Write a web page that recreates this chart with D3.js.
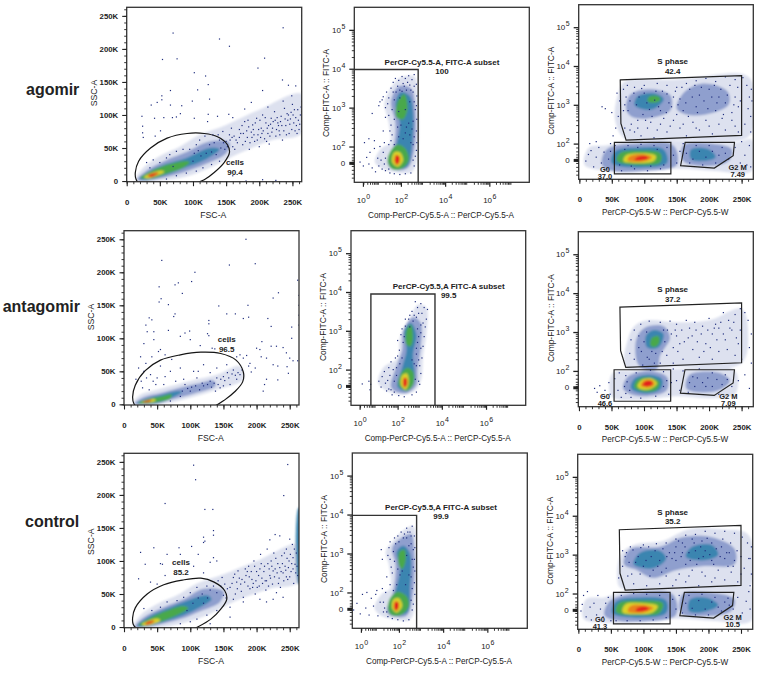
<!DOCTYPE html>
<html>
<head>
<meta charset="utf-8">
<script src="https://cdn.jsdelivr.net/npm/d3@7/dist/d3.min.js"></script>
<style>
  html, body { margin: 0; padding: 0; background: #fff; }
  svg { display: block; }
  text { font-family: "Liberation Sans", Arial, sans-serif; fill: #222; }
</style>
</head>
<body>
<svg id="chart" width="760" height="673"></svg>
<script>
// tick labels
var linearTicks = [0, 50, 100, 150, 200, 250];
var fitcTicks = [[1.58, "0"], [2, "2"], [3, "3"], [4, "4"], [5, "5"]];
var percpTicks = [[0.28, "0"], [2, "2"], [4, "4"], [6, "6"]];

// density colours, sparse to dense
var levelColors = ["#dde1ef", "#8f9fce", "#3a85b0", "#4aa84c", "#dcd22a", "#e8831f", "#e3201b"];

// gates shared by the cell cycle plots (W in K, FITC in decades)
var sPhaseGate = [[63, 3.64], [250, 3.75], [250, 2.21], [72, 2.09], [64, 2.52]];
var g0Gate = [[54, 2.03], [141, 2.03], [141, 1.22], [54, 1.22]];
var g2mGate = [[163, 2.03], [239, 2.03], [237, 1.69], [208, 1.37], [156, 1.43]];

// cell gates, FSC / SSC in K
var agomirCellsGate = [[13,13],[18,30],[36,50],[61,65],[91,72],[117,72],[137,67],[152,55],[155,43],[147,28],[132,13],[117,2],[102,-4],[76,-13],[46,-13],[23,-8],[14,3]];
var antagomirCellsGate = [[13,11],[17,29],[32,51],[55,67],[85,75],[116,79],[146,77],[169,67],[180,49],[179,34],[167,19],[151,6],[136,-3],[106,-12],[55,-12],[24,-7],[15,1]];
var controlCellsGate = [[13,14],[17,29],[35,50],[60,64],[88,71],[116,74],[136,68],[152,55],[155,42],[146,27],[131,12],[111,0],[98,-6],[50,-9],[22,-4],[14,4]];

// subset gates, PerCP / FITC in decades
var agomirSubsetGate = [[-0.2, 3.98], [2.78, 3.98], [2.78, 1]];
var antagomirSubsetGate = [[0.79, 1], [0.79, 3.95], [3.69, 3.95], [3.69, 1]];
var controlSubsetGate = [[-0.2, 3.98], [2.8, 3.98], [2.8, 1]];

// density bands: [level, outline]
var agomirFscBands = [
  [0, [[14,2],[25,20],[50,38],[80,52],[110,70],[150,85],[200,108],[264,132],[264,72],[220,62],[170,42],[130,22],[90,7],[50,1]]],
  [1, [[16,2],[30,16],[60,32],[90,44],[125,60],[155,58],[150,42],[120,26],[85,13],[50,4],[25,0]]],
  [2, [[19,4],[35,15],[60,26],[90,35],[125,50],[140,48],[120,33],[85,19],[55,8],[30,2]]],
  [3, [[21,5],[38,16],[62,25],[85,30],[95,29],[85,20],[60,11],[35,3]]],
  [4, [[26,6],[40,13],[52,16],[57,14],[45,8],[32,4]]],
  [6, [[32,8],[42,12],[48,12],[42,8],[35,6]]]
];
var antagomirFscBands = [
  [0, [[14,1],[24,14],[50,22],[80,30],[110,38],[140,45],[175,58],[180,38],[140,22],[100,10],[60,1]]],
  [1, [[16,1],[30,11],[55,17],[80,24],[110,31],[135,36],[138,28],[105,16],[75,8],[50,1]]],
  [2, [[19,2],[35,9],[58,15],[78,20],[88,19],[70,9],[50,2]]],
  [3, [[21,2],[35,8],[55,12],[72,15],[70,9],[52,4],[35,1]]],
  [4, [[25,3],[35,6],[45,8],[48,6],[38,3]]],
  [6, [[29,4],[36,6],[42,7],[40,5],[32,3]]]
];
var controlFscBands = [
  [0, [[14,0],[25,18],[50,35],[80,48],[110,66],[150,80],[200,100],[264,125],[264,68],[220,58],[170,40],[130,20],[90,6],[50,-1]]],
  [1, [[16,0],[30,15],[60,30],[90,42],[120,58],[150,54],[145,38],[115,24],[85,12],[50,3],[25,-1]]],
  [2, [[20,2],[40,17],[65,28],[90,38],[125,48],[132,42],[115,30],[90,18],[60,8],[35,1]]],
  [3, [[22,3],[40,14],[65,25],[88,32],[97,29],[80,18],[55,8],[35,2]]],
  [2, [[263,65],[266,65],[266,180],[263,180]]],
  [4, [[27,4],[38,10],[50,13],[55,10],[45,5],[32,2]]],
  [6, [[32,5],[40,9],[46,9],[42,6],[34,4]]]
];

var agomirSubsetBands = [
  [0, [[0.82,1.6],[1.1,1.95],[1.5,2.1],[1.45,2.6],[1.25,3.1],[1.4,3.35],[1.9,3.75],[2.6,3.8],[2.75,3.3],[2.75,1.8],[2.5,1.35],[1.8,1.33],[1.1,1.45]]],
  [1, [[1.4,1.55],[1.7,2.1],[1.75,2.6],[1.55,3.15],[1.9,3.55],[2.45,3.5],[2.65,3],[2.6,1.9],[2.3,1.45],[1.7,1.4]]],
  [2, [[1.55,1.5],[1.8,2.05],[1.95,2.6],[1.75,3.1],[2.0,3.4],[2.4,3.3],[2.55,2.9],[2.5,2.0],[2.3,1.5],[1.8,1.42]]],
  [3, [[1.4,1.6],[1.5,1.85],[1.85,2.05],[2.2,1.95],[2.35,1.65],[2.0,1.42],[1.6,1.42]]],
  [3, [[1.8,2.75],[1.85,3.15],[2.15,3.35],[2.3,3.0],[2.1,2.7]]],
  [4, [[1.6,1.6],[1.7,1.85],[1.95,1.85],[2.1,1.65],[1.85,1.48]]],
  [6, [[1.72,1.62],[1.78,1.78],[1.92,1.75],[1.93,1.6],[1.82,1.53]]]
];
var antagomirSubsetBands = [
  [0, [[1.13,1.65],[1.35,2.05],[2.0,2.3],[2.1,2.82],[2.56,3.34],[2.93,3.68],[3.3,3.6],[3.3,2.91],[3.16,2.39],[3.05,1.71],[2.7,1.42],[1.85,1.38]]],
  [1, [[1.7,1.55],[1.95,2.1],[2.2,2.5],[2.25,3.0],[2.7,3.35],[3.05,3.2],[3.05,2.6],[2.9,2.0],[2.85,1.6],[2.45,1.4],[1.95,1.42]]],
  [2, [[2.0,1.55],[2.2,2.05],[2.4,2.5],[2.3,3.0],[2.6,3.2],[2.85,2.9],[2.7,2.4],[2.75,1.7],[2.4,1.45]]],
  [3, [[2.05,1.6],[2.15,1.9],[2.45,2.05],[2.7,1.95],[2.7,1.6],[2.4,1.45]]],
  [3, [[2.4,2.65],[2.42,3.05],[2.6,3.15],[2.7,2.85],[2.6,2.6]]],
  [4, [[2.15,1.6],[2.2,1.85],[2.42,1.9],[2.5,1.65],[2.35,1.48]]],
  [6, [[2.25,1.6],[2.28,1.78],[2.4,1.78],[2.42,1.6],[2.32,1.54]]]
];
var controlSubsetBands = [
  [0, [[0.9,1.6],[1.2,1.95],[1.6,2.1],[1.55,2.7],[1.4,3.05],[1.7,3.3],[2.2,3.6],[2.65,3.7],[2.78,3.1],[2.75,1.8],[2.5,1.3],[1.85,1.3],[1.2,1.4]]],
  [1, [[1.45,1.5],[1.75,2.05],[1.85,2.7],[1.7,3.15],[2.1,3.4],[2.55,3.5],[2.7,3],[2.62,1.9],[2.35,1.4],[1.75,1.38]]],
  [2, [[1.55,1.5],[1.85,2.05],[2.05,2.6],[1.9,3.05],[2.2,3.2],[2.5,3.0],[2.5,2.1],[2.4,1.5],[1.85,1.42]]],
  [3, [[1.5,1.58],[1.6,1.85],[1.95,2.02],[2.35,1.9],[2.45,1.65],[2.1,1.42],[1.65,1.42]]],
  [3, [[2.0,2.7],[2.02,3.05],[2.25,3.1],[2.3,2.8],[2.15,2.6]]],
  [4, [[1.7,1.58],[1.75,1.82],[2.0,1.85],[2.15,1.65],[1.9,1.48]]],
  [6, [[1.78,1.6],[1.83,1.76],[1.97,1.75],[1.98,1.6],[1.88,1.53]]]
];

var agomirCycleBands = [
  [0, [[8,1.45],[15,1.9],[40,1.95],[70,2.05],[150,2.08],[240,2.02],[266,2.1],[266,1.3],[205,1.3],[150,1.35],[80,1.25],[40,1.3]]],
  [0, [[55,2.6],[60,3.3],[70,3.6],[150,3.65],[250,3.8],[266,3.6],[262,2.2],[150,2.1],[72,2.1]]],
  [1, [[35,1.45],[42,1.85],[90,2.0],[145,1.95],[150,1.45],[100,1.3],[50,1.3]]],
  [1, [[72,2.9],[78,3.25],[105,3.4],[140,3.25],[140,2.85],[105,2.65],[80,2.7]]],
  [1, [[150,2.9],[160,3.3],[190,3.55],[228,3.35],[230,3],[195,2.75],[165,2.75]]],
  [1, [[160,1.55],[160,1.95],[200,2.0],[235,1.85],[230,1.55],[195,1.42]]],
  [2, [[50,1.5],[55,1.8],[95,1.9],[130,1.85],[135,1.5],[95,1.38]]],
  [2, [[85,3.0],[90,3.22],[115,3.3],[130,3.15],[115,2.9],[95,2.9]]],
  [2, [[172,1.6],[172,1.85],[200,1.85],[210,1.65],[190,1.55]]],
  [3, [[58,1.55],[62,1.75],[95,1.82],[125,1.75],[125,1.52],[95,1.44]]],
  [3, [[105,3.1],[108,3.22],[122,3.22],[125,3.12],[113,3.05]]],
  [4, [[68,1.55],[72,1.7],[100,1.75],[118,1.68],[115,1.55],[90,1.5]]],
  [5, [[74,1.57],[78,1.68],[100,1.72],[112,1.65],[105,1.57],[88,1.53]]],
  [6, [[85,1.58],[90,1.66],[103,1.68],[106,1.62],[96,1.57]]]
];
var antagomirCycleBands = [
  [0, [[50,1.35],[52,1.95],[90,2.0],[150,2.05],[240,2.0],[240,1.4],[205,1.3],[150,1.35],[90,1.25]]],
  [0, [[72,2.1],[75,2.8],[85,3.15],[105,3.3],[150,3.25],[200,3.3],[250,3.6],[260,3.0],[250,2.2],[150,2.1]]],
  [1, [[90,2.2],[88,2.8],[100,3.1],[130,3.15],[140,2.85],[125,2.4],[120,2.05],[100,2.05]]],
  [1, [[68,1.55],[75,1.85],[105,2.0],[135,1.85],[135,1.5],[105,1.35],[80,1.4]]],
  [1, [[165,1.55],[170,1.9],[215,1.95],[232,1.75],[215,1.5],[185,1.45]]],
  [2, [[105,2.6],[103,2.9],[115,3.05],[130,2.95],[122,2.6]]],
  [2, [[80,1.55],[85,1.8],[110,1.9],[128,1.78],[125,1.52],[100,1.42]]],
  [3, [[85,1.58],[90,1.78],[110,1.83],[124,1.72],[120,1.52],[100,1.47]]],
  [3, [[110,2.65],[112,2.85],[122,2.9],[124,2.75],[118,2.62]]],
  [4, [[90,1.6],[96,1.76],[112,1.8],[120,1.68],[112,1.55],[98,1.52]]],
  [5, [[95,1.62],[100,1.75],[112,1.76],[116,1.66],[108,1.58]]],
  [6, [[98,1.64],[103,1.74],[111,1.74],[113,1.66],[105,1.6]]]
];
var controlCycleBands = [
  [0, [[8,1.35],[12,1.85],[40,1.9],[70,2.05],[150,2.1],[240,2.05],[266,2.15],[266,1.3],[205,1.3],[150,1.35],[80,1.25],[40,1.25]]],
  [0, [[62,2.2],[65,3.0],[85,3.25],[130,3.35],[170,3.65],[220,3.65],[262,3.5],[264,2.2],[150,2.1],[72,2.1]]],
  [1, [[70,2.75],[80,3.15],[125,3.2],[160,3.45],[205,3.45],[240,3.15],[240,2.75],[190,2.7],[150,2.6],[115,2.4],[90,2.6]]],
  [1, [[40,1.45],[48,1.8],[90,2.02],[145,1.98],[150,1.45],[100,1.28],[55,1.32]]],
  [1, [[158,1.5],[160,1.98],[205,2.02],[240,1.85],[235,1.55],[195,1.42]]],
  [2, [[52,1.5],[58,1.8],[95,1.9],[135,1.82],[135,1.5],[95,1.38]]],
  [2, [[85,2.75],[95,3.05],[125,3.1],[135,2.9],[115,2.65]]],
  [2, [[165,2.95],[175,3.2],[205,3.25],[215,3],[190,2.85]]],
  [2, [[170,1.55],[172,1.85],[200,1.88],[215,1.7],[190,1.52]]],
  [3, [[58,1.52],[62,1.75],[95,1.82],[130,1.75],[125,1.5],[95,1.44]]],
  [4, [[68,1.52],[72,1.72],[100,1.75],[122,1.68],[115,1.52],[90,1.47]]],
  [5, [[76,1.54],[80,1.68],[102,1.7],[115,1.63],[105,1.53],[88,1.5]]],
  [6, [[88,1.56],[92,1.64],[105,1.66],[108,1.6],[98,1.54]]]
];

// single events
var agomirFscDots = [[70,224],[140,215],[155,204],[236,232],[54,184],[76,185],[102,164],[119,159],[123,146],[208,186],[198,171],[235,153],[205,137],[107,138],[66,137],[53,129],[53,123],[99,121],[125,124],[37,115],[66,115],[46,119],[83,114],[23,98],[42,95],[56,96],[69,96],[75,97],[81,102],[102,95],[123,101],[24,83],[24,73],[25,66],[43,68],[51,76],[122,90],[137,98],[154,101],[160,96],[178,109],[188,119],[244,145],[255,144],[249,129],[236,121],[213,112],
  [165,62],[170,78],[175,55],[178,90],[182,66],[185,48],[188,74],[190,85],[193,60],[196,95],[198,70],[200,52],[203,80],[205,100],[208,64],[210,88],[213,72],[215,56],[218,95],[220,80],[223,105],[225,68],[228,88],[230,76],[233,98],[235,62],[238,110],[240,84],[243,92],[245,72],[248,104],[250,116],[252,88],[255,96],[258,108],[260,78],[262,100],[170,66],[176,72],[184,82],[192,70],[204,72],[214,84],[224,92],[234,84],[244,100],[254,76],[150,60],[155,70],[160,52],[158,80],[145,75],[140,62],[148,48],[130,70],[135,40],[125,55],[118,68],[105,55],[100,30],[95,48],[110,62],[85,48],[75,45],[65,40],[70,22],[60,35],[50,28],[40,32],[35,20],[30,28],[115,20],[128,25],[140,30],[105,15],[90,12],[75,8],[60,3],[180,0],[205,2],[225,1],[160,8],
  [264,60],[264,75],[264,90],[264,105],[264,120],[264,135],[264,150],[264,165],[264,180],[264,195],[264,210],[264,225],[264,240],[264,250],
  [162,68],[167,58],[172,72],[174,84],[179,60],[181,76],[183,92],[186,58],[189,66],[191,78],[194,88],[197,62],[199,78],[201,92],[202,66],[206,76],[209,96],[211,60],[212,80],[216,68],[217,86],[219,74],[221,90],[226,78],[227,96],[229,84],[231,70],[232,90],[237,76],[239,94],[241,70],[242,102],[246,86],[247,94],[249,78],[251,100],[253,108],[256,84],[257,72],[259,92],[261,86],[263,112],[152,52],[156,62],[159,66],[163,48],[146,58],[142,50],[138,70],[132,58],[128,44],[120,42],[112,38],[108,46],[102,42]];
var antagomirFscDots = [[184,250],[57,218],[107,200],[198,213],[159,211],[53,178],[77,181],[82,184],[102,186],[88,168],[262,188],[56,160],[53,155],[67,151],[143,149],[187,150],[225,161],[233,169],[77,137],[75,133],[188,132],[168,137],[155,137],[217,130],[38,131],[42,128],[128,127],[33,120],[128,122],[222,118],[253,117],[67,112],[35,110],[45,110],[92,108],[99,111],[126,107],[128,104],[180,130],[30,92],[45,98],[85,103],[100,98],[115,89],[133,85],[137,84],[157,95],[208,95],[222,88],[230,88],[240,86],[253,100],[200,85],[205,83],[245,78],[250,70],[255,66],[262,66],[207,72],[215,70],[225,60],[232,58],[246,57],[248,47],[198,55],[188,58],[192,49],[180,70],[170,72],[175,75],[185,74],[190,62],[25,72],[33,62],[42,72],[52,80],[55,83],[62,75],[72,68],[22,55],[30,50],[18,38],[40,45],[55,58],[70,50],[85,55],[105,50],[120,60],[140,55],[155,60],[165,52],[175,45],[170,38],[160,30],[150,42],[140,40],[130,35],[120,28],[110,40],[100,20],[85,12],[70,5],[60,30],[48,30],[38,22],[28,25],[210,20],[215,38],[212,30],[232,37],
  [264,120],[264,135],[264,150],[264,165],
  [178,52],[172,48],[168,44],[163,46],[158,40],[156,48],[152,36],[146,38],[142,30],[136,32],[132,26],[126,30],[118,32],[114,22],[108,28],[102,26],[96,24],[92,30],[88,20],[150,28],[145,25],[138,20],[50,40],[44,35],[34,40],[26,35],[62,42],[78,35],[90,38],[112,50],[130,48]];
var controlFscDots = [[105,245],[108,223],[62,187],[247,246],[241,199],[122,178],[134,178],[135,146],[135,139],[122,130],[120,128],[45,120],[83,120],[120,136],[228,140],[220,132],[235,138],[250,133],[25,113],[65,110],[85,110],[102,122],[112,110],[130,98],[140,100],[135,105],[32,95],[55,96],[58,95],[105,92],[120,82],[22,73],[40,68],[50,65],[62,78],
  [160,60],[165,75],[168,50],[172,85],[176,65],[180,45],[184,78],[188,92],[190,58],[193,72],[196,100],[198,50],[200,84],[204,62],[206,110],[208,74],[212,92],[214,56],[216,118],[220,78],[222,100],[224,65],[226,112],[228,88],[230,52],[232,96],[234,74],[236,60],[238,108],[240,82],[243,92],[245,118],[247,72],[249,100],[252,84],[254,125],[256,66],[258,95],[260,112],[262,78],[170,68],[178,72],[186,84],[194,60],[205,88],[215,70],[225,85],[235,90],[245,76],[255,105],[215,38],[225,42],[240,45],[205,42],[180,38],[165,42],[152,65],[148,75],[142,70],[135,62],[125,62],[118,50],[110,60],[100,52],[90,45],[150,48],[160,30],[140,25],[125,18],[110,12],[100,8],[95,25],[80,40],[65,38],[55,30],[42,25],[30,28],[160,15],[130,5],[85,5],
  [163,66],[167,80],[171,58],[174,74],[177,54],[182,68],[183,88],[187,62],[189,76],[192,84],[195,66],[197,92],[199,70],[201,60],[203,78],[207,96],[209,66],[211,84],[213,70],[217,96],[218,62],[219,88],[221,74],[223,92],[227,76],[229,104],[231,82],[233,66],[237,84],[239,96],[241,70],[242,112],[244,86],[246,104],[248,90],[250,76],[251,110],[253,96],[255,88],[257,118],[259,82],[261,92],[156,58],[154,44],[146,62],[140,52],[130,56],[126,44],[120,36],[112,44],[104,36]];

var agomirSubsetDots = [[0.15,1.6],[0.3,1.5],[0.45,1.72],[0.55,1.55],[0.6,1.85],[0.7,1.45],[0.8,1.95],[0.85,1.35],[0.95,1.7],[1.05,2.0],[1.0,1.5],[0.35,2.1],[0.55,2.2],[0.8,2.15],[0.7,2.85],[1.0,3.05],[1.05,3.15],[1.25,2.1],[1.2,2.4],[1.3,2.75],[1.3,3.0],[1.15,3.2],[1.2,3.28],[1.35,3.4],[1.5,2.4],[1.45,2.8],[1.4,3.1],[1.45,3.25],[1.55,3.5],[1.65,3.65],[1.75,3.75],[1.9,3.7],[2.05,3.8],[2.2,3.75],[2.35,3.82],[2.5,3.72],[2.6,3.85],[2.7,3.6],[2.72,3.3],[2.7,3.05],[2.72,2.7],[2.7,2.4],[2.72,2.1],[2.7,1.9],[2.6,1.5],[2.45,1.32],[2.2,1.3],[1.95,1.28],[1.7,1.3],[1.5,1.32],[1.3,1.38],[1.15,1.42],[1.6,2.3],[1.7,2.7],[1.65,3.4],[1.85,3.55],[2.1,3.62],[2.4,3.58],[2.55,3.4],[2.6,3.15],[2.55,2.65],[2.6,2.25],[2.45,2.1],[1.7,2.05],[1.45,2.05],[1.2,1.85],[1.1,1.65],[1.9,2.25],[2.2,2.35],[2.35,2.6],[2.0,2.55],[1.95,3.45],[2.25,3.45],
  [1.55,2.55],[1.6,2.95],[1.7,3.2],[1.78,3.4],[1.95,3.25],[2.05,3.42],[2.15,3.55],[2.3,3.65],[2.45,3.45],[2.6,3.55],[2.65,2.95],[2.5,2.45],[2.55,2.05],[1.85,2.5],[2.1,2.2],[2.25,2.5],[2.4,2.3],[1.55,2.15],[1.3,1.7],[1.25,1.55],[1.45,1.42],[2.55,1.65],[2.65,1.75],[2.4,3.15],[2.2,2.95],[1.9,2.9]];
var antagomirSubsetDots = [[0.4,1.63],[0.75,1.48],[0.7,1.7],[0.78,1.62],[1.15,1.7],[1.25,1.55],[1.3,1.82],[1.4,1.95],[1.5,1.45],[1.55,1.72],[1.6,2.05],[1.7,2.2],[1.75,1.35],[1.9,2.3],[2.05,1.33],[2.3,1.3],[2.65,1.35],[2.85,1.42],[3.0,1.62],[3.05,1.9],[3.0,2.1],[3.1,2.3],[3.15,2.6],[3.2,2.85],[3.25,3.1],[3.3,3.3],[3.35,3.55],[3.2,3.6],[3.05,3.7],[2.9,3.6],[2.8,3.75],[2.65,3.5],[2.5,3.3],[2.35,3.12],[2.2,3.05],[2.0,2.75],[2.08,2.5],[2.0,2.35],[2.2,2.3],[2.25,2.7],[2.85,2.4],[2.95,2.85],[3.05,3.15],[2.75,3.4],[2.55,3.1],[2.95,1.7],[2.85,2.1],[1.95,2.05],[1.85,1.7],[1.7,1.48],[2.65,2.25],
  [2.15,2.9],[2.3,2.85],[2.35,3.3],[2.55,3.4],[2.7,3.25],[2.85,3.35],[2.95,3.45],[3.1,3.45],[3.15,3.2],[3.05,2.95],[2.9,3.05],[2.9,2.7],[3.05,2.55],[2.85,2.55],[2.95,2.25],[2.75,2.15],[1.45,1.65],[1.65,1.85],[1.8,2.0],[1.95,1.85],[2.1,2.15],[1.6,1.5],[1.85,1.42],[2.8,1.75]];
var controlSubsetDots = [[-0.05,1.55],[0.1,1.72],[0.25,1.45],[0.35,1.95],[0.5,1.6],[0.55,2.0],[0.65,1.42],[0.75,1.85],[0.85,1.65],[0.95,1.95],[1.05,1.4],[1.0,2.05],[1.15,1.75],[1.25,2.1],[1.3,1.5],[1.4,2.0],[1.2,3.1],[1.25,2.85],[1.45,2.4],[1.5,2.95],[1.55,3.15],[1.6,2.2],[1.6,3.3],[1.7,2.5],[1.8,3.4],[1.95,3.45],[2.1,3.55],[2.25,3.5],[2.35,3.65],[2.5,3.55],[2.6,3.7],[2.7,3.45],[2.72,3.15],[2.7,2.85],[2.72,2.55],[2.7,2.25],[2.72,1.95],[2.6,1.55],[2.45,1.3],[2.2,1.27],[1.95,1.3],[1.7,1.33],[1.5,1.38],[1.75,2.05],[1.9,2.2],[2.3,2.2],[2.55,2.4],[2.6,2.85],[2.55,3.25],[2.35,3.4],[1.8,2.8],[1.75,3.05],[2.05,2.45],
  [1.65,2.65],[1.6,2.85],[1.85,3.25],[2.0,3.3],[2.2,3.4],[2.4,3.55],[2.55,3.45],[2.65,3.1],[2.65,2.65],[2.6,2.1],[2.45,2.45],[2.15,2.55],[1.95,2.6],[2.35,2.95],[2.45,3.2],[1.3,1.75],[1.35,1.6],[1.45,1.5],[2.55,1.8],[2.65,1.7]];

var agomirCycleDots = [[10,1.55],[14,1.72],[18,1.82],[22,1.4],[26,1.65],[30,1.9],[34,1.5],[38,1.78],[16,2.0],[26,2.05],[42,1.35],[48,2.0],[60,2.7],[62,3.1],[50,2.8],[40,2.9],[35,2.95],[58,3.3],[56,2.4],[52,2.2],[68,3.4],[74,3.5],[80,2.5],[85,2.3],[95,2.2],[105,2.4],[115,2.15],[125,2.5],[135,2.3],[145,2.6],[155,2.4],[165,2.2],[175,2.55],[185,2.35],[195,2.6],[205,2.25],[215,2.5],[225,2.35],[235,2.6],[245,2.3],[255,2.5],[260,2.9],[262,3.2],[258,3.5],[252,3.7],[240,3.65],[225,3.72],[210,3.6],[195,3.68],[180,3.62],[165,3.55],[150,3.45],[135,3.5],[120,3.55],[100,3.5],[85,3.45],[70,3.0],[75,2.85],[88,3.0],[98,2.75],[112,2.7],[125,2.85],[138,3.05],[145,3.2],[155,3.15],[170,3.4],[185,3.25],[200,3.4],[215,3.2],[225,3.05],[240,3.2],[245,2.95],[235,2.8],[210,2.85],[180,2.95],[160,2.85],[150,2.75],[130,2.65],[110,2.55],[90,2.6],[78,2.35],[100,3.3],[118,3.35],[135,3.28],
  [45,1.6],[55,1.95],[65,1.3],[75,1.95],[85,1.35],[95,1.98],[105,1.3],[115,1.95],[125,1.35],[135,1.9],[145,1.7],[150,1.5],[155,1.8],[160,2.0],[170,1.5],[180,1.95],[190,1.45],[200,1.95],[210,1.5],[220,1.9],[230,1.6],[240,1.9],[248,1.5],[255,1.7],[262,1.95],[264,1.4],[264,2.3],[264,2.7],[266,3.1],[265,3.4],[258,1.45],[250,2.05],
  [68,2.85],[72,3.2],[78,3.1],[84,3.3],[92,3.2],[96,3.42],[104,3.05],[108,2.88],[116,3.12],[122,2.95],[128,3.35],[134,2.8],[142,2.95],[148,3.35],[152,3.0],[158,3.45],[164,3.05],[168,2.7],[174,3.2],[178,3.5],[182,2.8],[188,3.45],[192,3.1],[198,2.9],[204,3.2],[208,3.5],[212,3.05],[218,3.4],[222,2.75],[228,3.25],[232,3.5],[238,3.0],[244,3.45],[248,3.1],[70,2.4],[90,2.4],[102,2.6],[120,2.35],[140,2.45],[160,2.5],[180,2.4],[200,2.45],[220,2.65],[240,2.45],[48,1.8],[62,1.45],[70,1.85],[80,1.42],[90,1.9],[110,1.42],[120,1.85],[130,1.45],[165,1.75],[175,1.6],[185,1.8],[195,1.65],[205,1.8],[215,1.7],[225,1.75]];
var antagomirCycleDots = [[24,1.55],[28,1.45],[32,1.62],[36,1.35],[40,1.5],[46,1.7],[48,1.4],[55,1.8],[60,1.5],[62,1.95],[65,1.32],[72,1.42],[72,1.88],[80,1.32],[88,1.95],[95,1.3],[110,2.02],[118,1.35],[130,1.98],[138,1.4],[142,1.7],[145,2.05],[150,1.75],[155,1.5],[160,2.0],[168,1.45],[175,1.85],[185,2.05],[195,1.6],[205,1.95],[215,1.4],[225,1.9],[235,1.6],[245,1.75],[255,1.9],[262,1.55],[265,2.2],[262,2.6],[265,2.95],[260,3.3],[255,3.5],[248,3.6],[240,3.45],[230,3.3],[222,3.5],[210,3.2],[200,3.35],[190,3.15],[178,3.25],[165,3.3],[150,3.2],[140,3.28],[125,3.25],[108,3.28],[95,3.2],[85,3.05],[80,2.8],[78,2.45],[85,2.3],[92,2.6],[98,2.15],[125,2.2],[135,2.4],[145,2.6],[150,2.9],[158,3.05],[168,2.85],[175,2.55],[185,2.35],[195,2.7],[205,2.95],[215,2.5],[225,2.8],[235,3.05],[245,2.7],[250,2.3],[240,2.4],[205,2.3],[160,2.3],[145,2.2],[155,2.7],[180,3.05],[215,3.1],[105,2.35],[112,2.5],[130,3.05],
  [92,2.9],[96,2.5],[100,2.75],[104,3.0],[108,2.3],[116,2.2],[118,2.45],[128,2.5],[132,2.75],[136,3.05],[142,2.95],[148,3.05],[152,2.5],[162,2.75],[170,3.1],[174,2.9],[182,2.75],[188,2.95],[192,2.5],[198,3.05],[202,2.6],[208,3.1],[212,2.8],[218,3.25],[222,2.95],[228,2.55],[232,3.1],[238,3.25],[242,2.85],[248,3.05],[170,1.7],[178,1.6],[182,1.82],[190,1.7],[198,1.82],[205,1.6],[212,1.78],[220,1.65],[228,1.78],[70,1.6],[74,1.72],[78,1.5],[130,1.6],[135,1.75]];
var controlCycleDots = [[4,1.55],[6,1.72],[8,1.95],[12,1.4],[14,2.05],[18,1.65],[20,1.32],[24,1.75],[28,1.45],[30,1.95],[34,1.6],[38,1.4],[42,1.75],[46,1.9],[50,1.3],[62,2.4],[68,2.7],[68,3.1],[72,2.95],[80,3.2],[76,2.45],[85,2.25],[95,2.5],[105,2.2],[115,2.6],[125,2.25],[135,2.45],[145,2.2],[155,2.5],[165,2.3],[175,2.6],[185,2.2],[195,2.45],[205,2.3],[215,2.6],[225,2.35],[235,2.55],[245,2.3],[255,2.65],[262,2.9],[260,3.3],[252,3.45],[240,3.55],[225,3.6],[210,3.55],[195,3.6],[180,3.52],[165,3.5],[150,3.4],[135,3.3],[120,3.28],[100,3.25],[88,2.8],[100,2.7],[112,2.95],[125,2.85],[140,3.05],[150,3.2],[160,3.3],[175,3.4],[190,3.35],[205,3.3],[220,3.2],[232,3.05],[240,2.85],[225,2.9],[205,2.85],[185,2.9],[165,2.75],[150,2.85],[135,2.65],[195,3.1],[180,3.1],[160,3.05],
  [58,1.3],[66,1.95],[75,1.3],[85,2.0],[95,1.3],[105,1.98],[115,1.32],[125,1.95],[135,1.38],[145,1.85],[150,1.6],[155,1.95],[160,1.5],[170,1.95],[180,1.45],[190,1.98],[200,1.45],[210,1.9],[220,1.55],[230,1.88],[238,1.6],[245,1.9],[252,1.5],[258,1.8],[264,1.6],[264,2.2],[266,2.5],[264,2.9],[266,3.2],[262,2.05],
  [74,3.05],[78,2.8],[84,3.12],[92,2.95],[96,3.18],[104,2.85],[108,3.2],[118,3.1],[122,2.7],[130,3.15],[136,2.95],[144,2.9],[148,3.05],[154,3.35],[158,2.95],[164,3.2],[170,3.05],[172,2.85],[178,3.3],[182,2.75],[188,3.2],[192,2.95],[198,3.42],[202,3.0],[208,2.75],[212,3.15],[218,2.95],[222,3.4],[228,3.05],[234,3.3],[238,2.7],[244,3.1],[250,2.95],[82,2.5],[110,2.45],[128,2.55],[150,2.35],[170,2.45],[190,2.55],[210,2.4],[230,2.7],[250,2.5],[165,1.75],[175,1.62],[185,1.82],[195,1.6],[205,1.78],[215,1.65],[225,1.78],[232,1.7]];

// text
var rowNames = ["agomir", "antagomir", "control"];
var cellsValues = ["90.4", "96.5", "85.2"];
var subsetNames = ["PerCP-Cy5.5-A, FITC-A subset", "PerCP-Cy5.5,A FITC-A subset", "PerCP-Cy5.5,A FITC-A subset"];
var subsetValues = ["100", "99.5", "99.9"];
var sPhaseValues = ["42.4", "37.2", "35.2"];
var g0Values = ["37.0", "46.6", "41.3"];
var g2mValues = ["7.49", "7.09", "10.5"];

var svg = d3.select("#chart");
svg.append("filter").attr("id", "soft").append("feGaussianBlur").attr("stdDeviation", 0.8);

var bandLine = d3.line().curve(d3.curveCatmullRomClosed.alpha(0.5));
var gateLine = d3.line().curve(d3.curveLinearClosed);
var ellipseLine = d3.line().curve(d3.curveCatmullRomClosed.alpha(0.5));
var openLine = d3.line();

// panel layout, page pixels
var rowLabels = [
  { x: 26, y: 95 }, { x: 2.7, y: 311.7 }, { x: 25, y: 526.7 }
];
var fscBoxes = [[126.7, 301.7, 7.3, 181.7], [124, 299, 230.7, 405], [124, 299, 453.3, 627.7]];
var subsetBoxes = [[354.3, 529.3, 7.3, 182.3], [351, 525.7, 230.7, 405.3], [352.3, 527.3, 453, 628.3]];
var cycleBoxes = [[578.7, 753.3, 4.7, 179.3], [578.3, 753.3, 231.7, 406.7], [577.7, 752.7, 454.3, 629.3]];

var clipId = 0;

function frame(box, xScale, yScale, bands, dots) {
  var g = svg.append("g");
  var id = "clip" + (clipId++);
  g.append("clipPath").attr("id", id).append("rect")
    .attr("x", box[0]).attr("y", box[2])
    .attr("width", box[1] - box[0]).attr("height", box[3] - box[2]);
  var plot = g.append("g").attr("clip-path", "url(#" + id + ")");
  bandLine.x(function (d) { return xScale(d[0]); }).y(function (d) { return yScale(d[1]); });
  plot.append("g").attr("filter", "url(#soft)").selectAll("path").data(bands).enter().append("path")
    .attr("d", function (d) { return bandLine(d[1]); })
    .attr("fill", function (d) { return levelColors[d[0]]; });
  plot.selectAll("rect.dot").data(dots).enter().append("rect")
    .attr("class", "dot")
    .attr("x", function (d) { return xScale(d[0]) - 0.6; })
    .attr("y", function (d) { return yScale(d[1]) - 0.6; })
    .attr("width", 1.2).attr("height", 1.2)
    .attr("fill", "#1f2d7e");
  return { g: g, plot: plot };
}

function styleAxis(sel, width) {
  sel.select(".domain").remove();
  sel.selectAll("line").attr("stroke", "#222").attr("stroke-width", width);
}

function border(g, box) {
  g.append("rect")
    .attr("x", box[0]).attr("y", box[2])
    .attr("width", box[1] - box[0]).attr("height", box[3] - box[2])
    .attr("fill", "none").attr("stroke", "#333").attr("stroke-width", 1.3);
}

function linearX(g, box, scale) {
  var minor = d3.range(0, 265, 10);
  g.append("g").attr("transform", "translate(0," + box[3] + ")")
    .call(d3.axisBottom(scale).tickValues(minor).tickSize(2.5).tickFormat(""))
    .call(styleAxis, 0.9);
  g.append("g").attr("transform", "translate(0," + box[3] + ")")
    .call(d3.axisBottom(scale).tickValues(linearTicks).tickSize(4.5).tickPadding(13)
      .tickFormat(function (d) { return d === 0 ? "0" : d + "K"; }))
    .call(styleAxis, 1.1)
    .selectAll("text").attr("font-size", 7.8).attr("font-weight", "bold").attr("fill", "#333")
    .attr("font-family", "Liberation Sans");
}

function linearY(g, box, scale) {
  var minor = d3.range(0, 262, 10);
  g.append("g").attr("transform", "translate(" + box[0] + ",0)")
    .call(d3.axisLeft(scale).tickValues(minor).tickSize(2.5).tickFormat(""))
    .call(styleAxis, 0.9);
  g.append("g").attr("transform", "translate(" + box[0] + ",0)")
    .call(d3.axisLeft(scale).tickValues(linearTicks).tickSize(4.5).tickPadding(4)
      .tickFormat(function (d) { return d === 0 ? "0" : d + "K"; }))
    .call(styleAxis, 1.1)
    .selectAll("text").attr("font-size", 7.8).attr("font-weight", "bold").attr("fill", "#333");
}

function decadeMinor(from, to) {
  var out = [];
  d3.range(from, to).forEach(function (k) {
    [2, 3, 4, 5, 6, 7, 8, 9].forEach(function (m) { out.push(k + Math.log10(m)); });
  });
  return out;
}

function powerLabel(sel, ticks, dx, dy) {
  sel.each(function (d) {
    var t = ticks.filter(function (k) { return k[0] === d; })[0];
    var el = d3.select(this);
    el.text(null);
    if (t[1] === "0" && ticks === fitcTicks) {
      el.text("0");
      return;
    }
    el.append("tspan").text("10");
    el.append("tspan").attr("dx", dx).attr("dy", dy).attr("font-size", 7).text(t[1]);
  });
}

function logY(g, box, scale) {
  var minor = decadeMinor(2, 5).concat([1.2, 1.3, 1.4, 1.5, 1.55, 1.61, 1.66, 1.72, 1.8, 1.9]);
  g.append("g").attr("transform", "translate(" + box[0] + ",0)")
    .call(d3.axisLeft(scale).tickValues(minor).tickSize(2.5).tickFormat(""))
    .call(styleAxis, 0.9);
  var ax = g.append("g").attr("transform", "translate(" + box[0] + ",0)")
    .call(d3.axisLeft(scale).tickValues(fitcTicks.map(function (d) { return d[0]; })).tickSize(5).tickPadding(4))
    .call(styleAxis, 1.3);
  ax.selectAll("text").attr("font-size", 8).attr("fill", "#222")
    .call(powerLabel, fitcTicks, 0.5, -4);
  ax.selectAll("line").filter(function (d) { return d === 1.58; }).attr("stroke-width", 3);
}

function logX(g, box, scale) {
  var minor = decadeMinor(0, 7).filter(function (d) { return d < 7.7; });
  g.append("g").attr("transform", "translate(0," + box[3] + ")")
    .call(d3.axisBottom(scale).tickValues(minor).tickSize(2.5).tickFormat(""))
    .call(styleAxis, 0.9);
  var ax = g.append("g").attr("transform", "translate(0," + box[3] + ")")
    .call(d3.axisBottom(scale).tickValues(percpTicks.map(function (d) { return d[0]; })).tickSize(4.5).tickPadding(11))
    .call(styleAxis, 1.2);
  ax.selectAll("text").attr("font-size", 8).attr("fill", "#222")
    .call(powerLabel, percpTicks, 0.5, -4);
}

function label(x, y, txt, opts) {
  opts = opts || {};
  var t = svg.append("text").attr("x", x).attr("y", y).text(txt)
    .attr("text-anchor", opts.anchor || "middle")
    .attr("font-size", opts.size || 8)
    .attr("font-weight", opts.bold ? "bold" : "normal");
  if (opts.rotate) t.attr("transform", "rotate(-90," + x + "," + y + ")");
  return t;
}

function drawFsc(i, bands, dots, gate, pos, axisPos) {
  var box = fscBoxes[i];
  var x = d3.scaleLinear().domain([0, 264]).range([box[0], box[1]]);
  var y = d3.scaleLinear().domain([-1, 263]).range([box[3], box[2]]);
  var f = frame(box, x, y, bands, dots);
  ellipseLine.x(function (d) { return x(d[0]); }).y(function (d) { return y(d[1]); });
  f.plot.append("path").attr("d", ellipseLine(gate)).attr("fill", "none").attr("stroke", "#151515").attr("stroke-width", 1.2);
  border(f.g, box);
  linearX(f.g, box, x);
  linearY(f.g, box, y);
  label(pos[0], pos[1], "cells", { bold: true });
  label(pos[0], pos[1] + 10, cellsValues[i], { bold: true });
  label(axisPos[0], axisPos[1], "FSC-A", { size: 8.7 });
  label(axisPos[2], axisPos[3], "SSC-A", { size: 8.7, rotate: true });
}

function drawSubset(i, bands, dots, gate, pos, axisPos) {
  var box = subsetBoxes[i];
  var w = box[1] - box[0];
  var x = d3.scaleLinear().domain([-0.11, -0.11 + w / 22.1]).range([box[0], box[1]]);
  var y = d3.scaleLinear().domain([1.08, 5.58]).range([box[3], box[2]]);
  var f = frame(box, x, y, bands, dots);
  openLine.x(function (d) { return x(d[0]); }).y(function (d) { return y(d[1]); });
  f.plot.append("path").attr("d", openLine(gate)).attr("fill", "none").attr("stroke", "#333").attr("stroke-width", 1.4);
  border(f.g, box);
  logX(f.g, box, x);
  logY(f.g, box, y);
  label(pos[0], pos[1], subsetNames[i], { bold: true, size: 8 });
  label(pos[0], pos[1] + 9.5, subsetValues[i], { bold: true });
  label(axisPos[0], axisPos[1], "Comp-PerCP-Cy5.5-A :: PerCP-Cy5.5-A", { size: 8.2 });
  label(axisPos[2], axisPos[3], "Comp-FITC-A :: FITC-A", { size: 8.4, rotate: true });
}

function drawCycle(i, bands, dots, labelPos, axisPos) {
  var box = cycleBoxes[i];
  var x = d3.scaleLinear().domain([-1, 268]).range([box[0], box[1]]);
  var y = d3.scaleLinear().domain([1.08, 5.58]).range([box[3], box[2]]);
  var f = frame(box, x, y, bands, dots);
  gateLine.x(function (d) { return x(d[0]); }).y(function (d) { return y(d[1]); });
  [sPhaseGate, g0Gate, g2mGate].forEach(function (gate) {
    f.plot.append("path").attr("d", gateLine(gate)).attr("fill", "none").attr("stroke", "#222").attr("stroke-width", 1.2);
  });
  border(f.g, box);
  linearX(f.g, box, x);
  logY(f.g, box, y);
  label(labelPos[0], labelPos[1], "S phase", { bold: true });
  label(labelPos[0], labelPos[1] + 9.7, sPhaseValues[i], { bold: true });
  label(labelPos[2], labelPos[3], "G0", { bold: true, size: 7.5 });
  label(labelPos[2], labelPos[3] + 7, g0Values[i], { bold: true, size: 7.5 });
  label(labelPos[4], labelPos[5], "G2 M", { bold: true, size: 7.5 });
  label(labelPos[4], labelPos[5] + 7, g2mValues[i], { bold: true, size: 7.5 });
  label(axisPos[0], axisPos[1], "PerCP-Cy5.5-W :: PerCP-Cy5.5-W", { size: 8.2 });
  label(axisPos[2], axisPos[3], "Comp-FITC-A :: FITC-A", { size: 8.4, rotate: true });
}

drawFsc(0, agomirFscBands, agomirFscDots, agomirCellsGate, [235, 165], [213.3, 218, 97, 93]);
drawFsc(1, antagomirFscBands, antagomirFscDots, antagomirCellsGate, [226.7, 342], [210.7, 441, 94, 317]);
drawFsc(2, controlFscBands, controlFscDots, controlCellsGate, [181, 564.7], [211, 664, 94, 541.7]);

drawSubset(0, agomirSubsetBands, agomirSubsetDots, agomirSubsetGate, [442, 64.5], [441, 218, 329, 93]);
drawSubset(1, antagomirSubsetBands, antagomirSubsetDots, antagomirSubsetGate, [448.7, 288.7], [437.7, 441, 326, 317]);
drawSubset(2, controlSubsetBands, controlSubsetDots, controlSubsetGate, [441, 509.7], [439, 664, 327, 539]);

drawCycle(0, agomirCycleBands, agomirCycleDots, [672.7, 64, 605, 172, 737.7, 170], [665.3, 215, 553.7, 90.7]);
drawCycle(1, antagomirCycleBands, antagomirCycleDots, [672.7, 292, 605, 399, 728.3, 398.5], [665, 442.3, 553.7, 318]);
drawCycle(2, controlCycleBands, controlCycleDots, [672.7, 514.7, 600, 621.5, 732.7, 620], [665, 664.7, 553, 540.7]);

rowNames.forEach(function (name, i) {
  label(rowLabels[i].x, rowLabels[i].y, name, { anchor: "start", size: 16, bold: true }).attr("fill", "#000");
});
</script>
</body>
</html>
